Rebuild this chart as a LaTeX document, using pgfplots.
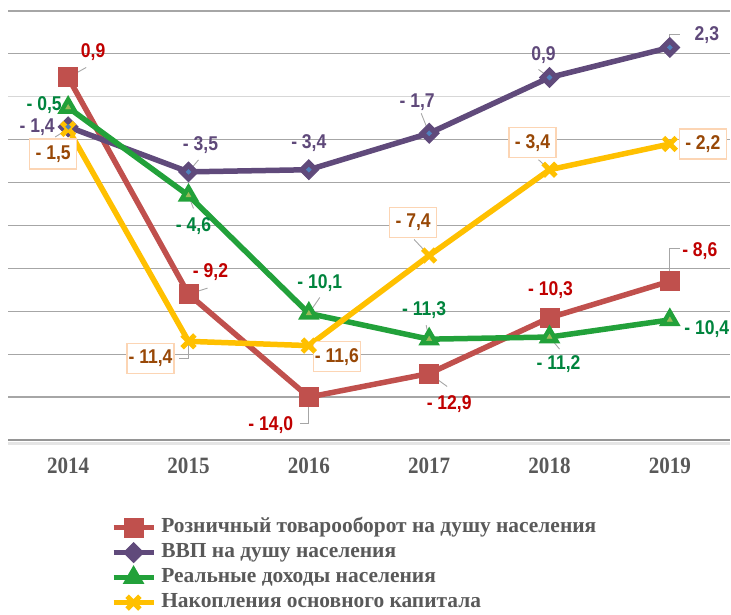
\documentclass[border=0pt]{standalone}
\usepackage{fontspec}
\setmainfont{Liberation Serif}
\newfontfamily\lblfont{Liberation Sans}[FakeStretch=0.88]
\newfontfamily\serifst{Liberation Serif}[FakeStretch=0.9]
\usepackage{pgfplots}
\pgfplotsset{compat=1.18}
\definecolor{cRed}{HTML}{C0504D}
\definecolor{cRedT}{HTML}{C00000}
\definecolor{cPur}{HTML}{604A7B}
\definecolor{cPurT}{HTML}{5F497A}
\definecolor{cBlue}{HTML}{4F81BD}
\definecolor{cGrn}{HTML}{22A13A}
\definecolor{cGrnL}{HTML}{9BBB59}
\definecolor{cGrnT}{HTML}{00843D}
\definecolor{cYel}{HTML}{FFC000}
\definecolor{cBrn}{HTML}{984807}
\definecolor{cBox}{HTML}{FCD5B4}
\definecolor{cTxt}{HTML}{595959}
\definecolor{cGrid}{HTML}{A6A6A6}
\newcommand{\lbl}[6]{\node[font=\lblfont\bfseries\fontsize{20}{20}\selectfont, text=#5, inner sep=1bp, xshift=#3bp, yshift=#4bp] at (axis cs:#1,#2) {#6};}
\newcommand{\ybox}[5]{\node[font=\lblfont\bfseries\fontsize{20}{20}\selectfont, text=cBrn, draw=cBox, line width=1.2bp, fill=white, minimum width=47bp, minimum height=30bp, inner sep=1bp, xshift=#3bp, yshift=#4bp] at (axis cs:#1,#2) {#5};}
% leader line: point, then list of relative offsets
\newcommand{\lead}[3]{\draw[cGrid, line width=0.9bp] (axis cs:#1,#2) #3;}
\begin{document}
\begin{tikzpicture}
\useasboundingbox (0,0) rectangle (731bp,615bp);
\begin{axis}[
  at={(8bp,175bp)}, anchor=south west,
  width=722bp, height=429bp, scale only axis,
  xmin=-0.5, xmax=5.5, ymin=-16, ymax=4,
  clip=false,
  axis line style={draw=none},
  ytick={-16,-14,...,4}, yticklabels={},
  major tick length=0pt,
  ymajorgrids, grid style={cGrid, line width=1.2bp},
  xtick={0,...,5},
  xticklabels={2014,2015,2016,2017,2018,2019},
  xticklabel style={anchor=base, yshift=-33bp, text=cTxt, font=\serifst\bfseries\fontsize{23.5}{26}\selectfont},
  legend style={at={(0.138,-0.1700)}, anchor=north west, draw=none, fill=none,
    font=\bfseries\fontsize{21.5}{22}\selectfont, text=cTxt,
    row sep=0bp, column sep=3bp, cells={anchor=west},
    nodes={inner sep=2bp, text height=15bp, text depth=6bp}},
  legend image code/.code={\draw[mark repeat=2, mark phase=2] plot coordinates {(0bp,0bp) (20bp,0bp) (40bp,0bp)};},
]
\draw[cGrid!45, line width=1.2bp] (axis cs:-0.5,0) -- (axis cs:5.5,0);
\draw[black!10, line width=3bp] ([yshift=-3bp]axis cs:-0.5,-16) -- ([yshift=-3bp]axis cs:5.5,-16);
\draw[cGrid!90!black, line width=1.5bp] (axis cs:-0.5,-16) -- (axis cs:5.5,-16);

\addplot[cRed, line width=5.5bp, mark=square*, mark size=9.5bp, mark options={fill=cRed, draw=cRed, line width=1bp}]
  coordinates {(0,0.9) (1,-9.2) (2,-14.0) (3,-12.9) (4,-10.3) (5,-8.6)};
\addlegendentry{Розничный товарооборот на душу населения}
\addplot[cPur, line width=5.5bp, mark=square*, mark size=7bp, mark options={rotate=45, fill=cPur, draw=cPur, line width=1bp}]
  coordinates {(0,-1.4) (1,-3.5) (2,-3.4) (3,-1.7) (4,0.9) (5,2.3)};
\addlegendentry{ВВП на душу населения}
\addplot[cGrn, line width=5.5bp, mark=triangle*, mark size=11bp, mark options={fill=cGrn, draw=cGrn, line width=1.5bp}]
  coordinates {(0,-0.5) (1,-4.6) (2,-10.1) (3,-11.3) (4,-11.2) (5,-10.4)};
\addlegendentry{Реальные доходы населения}
\addplot[cYel, line width=5.5bp, mark=x, mark size=9bp, mark options={draw=cYel, line width=5bp}]
  coordinates {(0,-1.5) (1,-11.4) (2,-11.6) (3,-7.4) (4,-3.4) (5,-2.2)};
\addlegendentry{Накопления основного капитала}
\addplot[only marks, forget plot, mark=square*, mark size=1.8bp, mark options={rotate=45, fill=cBlue, draw=cBlue}]
  coordinates {(0,-1.4) (1,-3.5) (2,-3.4) (3,-1.7) (4,0.9) (5,2.3)};
\addplot[only marks, forget plot, mark=triangle*, mark size=3bp, mark options={fill=cGrnL, draw=cGrnL}]
  coordinates {(0,-0.5) (1,-4.6) (2,-10.1) (3,-11.3) (4,-11.2) (5,-10.4)};

% leader lines
\lead{0}{0.9}{-- ++(18bp,10bp)}
\lead{1}{-9.2}{-- ++(19bp,6bp)}
\lead{2}{-14.0}{-- ++(0bp,-26bp) -- ++(-9bp,0bp)}
\lead{3}{-12.9}{-- ++(18bp,-13bp)}
\lead{5}{-8.6}{-- ++(0bp,33bp) -- ++(10bp,0bp)}
\lead{1}{-3.5}{-- ++(10bp,12bp)}
\lead{2}{-3.4}{-- ++(0bp,10bp)}
\lead{3}{-1.7}{-- ++(-8bp,20bp)}
\lead{4}{0.9}{-- ++(-11bp,8bp)}
\lead{5}{2.3}{-- ++(0bp,13bp) -- ++(10bp,0bp)}
\lead{1}{-4.6}{-- ++(5bp,-13bp)}
\lead{2}{-10.1}{-- ++(11bp,16bp)}
\lead{3}{-11.3}{-- ++(-3bp,14bp)}
\lead{4}{-11.2}{-- ++(10bp,-12bp)}
\lead{0}{-1.5}{-- ++(-13bp,-8bp)}
\lead{1}{-11.4}{-- ++(0bp,-17bp) -- ++(-10bp,0bp)}
\lead{3}{-7.4}{-- ++(-15bp,16bp)}
\lead{4}{-3.4}{-- ++(-11bp,10bp)}

% red labels
\lbl{0}{0.9}{25}{25}{cRedT}{0,9}
\lbl{1}{-9.2}{22}{22}{cRedT}{- 9,2}
\lbl{2}{-14.0}{-38}{-28}{cRedT}{- 14,0}
\lbl{3}{-12.9}{20}{-31}{cRedT}{- 12,9}
\lbl{4}{-10.3}{1}{28}{cRedT}{- 10,3}
\lbl{5}{-8.6}{30}{30}{cRedT}{- 8,6}
% purple labels
\lbl{0}{-1.4}{-31}{0}{cPurT}{- 1,4}
\lbl{1}{-3.5}{12}{27}{cPurT}{- 3,5}
\lbl{2}{-3.4}{0}{27}{cPurT}{- 3,4}
\lbl{3}{-1.7}{-12}{31}{cPurT}{- 1,7}
\lbl{4}{0.9}{-6}{22}{cPurT}{0,9}
\lbl{5}{2.3}{37}{12}{cPurT}{2,3}
% green labels
\lbl{0}{-0.5}{-24}{2}{cGrnT}{- 0,5}
\lbl{1}{-4.6}{5}{-31}{cGrnT}{- 4,6}
\lbl{2}{-10.1}{11}{30}{cGrnT}{- 10,1}
\lbl{3}{-11.3}{-5}{29}{cGrnT}{- 11,3}
\lbl{4}{-11.2}{9}{-27}{cGrnT}{- 11,2}
\lbl{5}{-10.4}{37}{-9}{cGrnT}{- 10,4}
% yellow boxed labels
\ybox{0}{-1.5}{-15}{-25}{- 1,5}
\ybox{1}{-11.4}{-38}{-17}{- 11,4}
\ybox{2}{-11.6}{28}{-11}{- 11,6}
\ybox{3}{-7.4}{-16}{33}{- 7,4}
\ybox{4}{-3.4}{-17}{27}{- 3,4}
\ybox{5}{-2.2}{33}{0}{- 2,2}
\end{axis}
\end{tikzpicture}
\end{document}
